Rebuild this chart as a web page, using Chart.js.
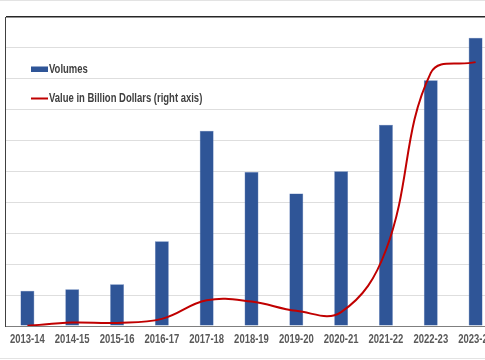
<!DOCTYPE html>
<html>
<head>
<meta charset="utf-8">
<script src="https://cdn.jsdelivr.net/npm/chart.js@4"></script>
<style>
  html, body { margin: 0; padding: 0; background: #fff; overflow: hidden; }
  body { width: 485px; height: 360px; position: relative; }
  #wrap { position: absolute; left: 0; top: 0; width: 500px; height: 360px; }
  #edgeTop, #edgeBottom { position: absolute; left: 0; width: 485px; height: 1px; background: #e3e3e3; }
  #edgeTop { top: 0; }
  #edgeBottom { top: 358px; }
</style>
</head>
<body>
<div id="wrap"><canvas id="chart" width="500" height="360"></canvas></div>
<div id="edgeTop"></div>
<div id="edgeBottom"></div>
<script>
// ---- data ----
const years = ['2013-14', '2014-15', '2015-16', '2016-17', '2017-18', '2018-19',
               '2019-20', '2020-21', '2021-22', '2022-23', '2023-24'];
const volumes = [114, 119, 135, 274, 632, 498, 429, 501, 651, 795, 933];      // left axis
const valueBn = [0.1, 1.1, 1.0, 2.3, 8.3, 7.9, 4.9, 4.5, 24.6, 81.9, 85.4];  // right axis
const leftMax = 1000, leftStep = 100;
const rightMax = 100;

const FONT = "'Liberation Sans', Arial, sans-serif";
const NARROW = 0.79;   // the original uses a narrow face, squeeze the text horizontally
const BLUE = '#2f5597';
const RED = '#c00000';

function narrowText(ctx, text, x, y, align) {
    const w = ctx.measureText(text).width * NARROW;
    let left = x;
    if (align === 'center') left = x - w / 2;
    ctx.save();
    ctx.translate(left, y);
    ctx.scale(NARROW, 1);
    ctx.textAlign = 'left';
    ctx.fillText(text, 0, 0);
    ctx.restore();
}

// x labels + legend drawn with narrow text
const narrowLabels = {
    id: 'narrowLabels',
    afterDraw(chart) {
        const ctx = chart.ctx;
        const xs = chart.scales.x;
        const axisY = chart.chartArea.bottom;
        ctx.save();
        ctx.font = 'bold 12px ' + FONT;
        ctx.textBaseline = 'middle';
        ctx.fillStyle = '#595959';
        years.forEach((lab, i) => {
            narrowText(ctx, lab, xs.getPixelForValue(i), axisY + 14, 'center');
        });

        // legend, inside the plot, top-left
        ctx.fillStyle = BLUE;
        ctx.fillRect(31, 66.5, 17, 5.5);
        ctx.fillStyle = '#404040';
        narrowText(ctx, 'Volumes', 49, 69.5, 'left');
        ctx.strokeStyle = RED;
        ctx.lineWidth = 2;
        ctx.beginPath();
        ctx.moveTo(31, 98.5);
        ctx.lineTo(48, 98.5);
        ctx.stroke();
        narrowText(ctx, 'Value in Billion Dollars (right axis)', 49, 98.5, 'left');
        ctx.restore();
    }
};

document.addEventListener('DOMContentLoaded', function () {
    new Chart(document.getElementById('chart'), {
        type: 'bar',
        data: {
            labels: years,
            datasets: [
                {
                    type: 'line', label: 'Value in Billion Dollars (right axis)', data: valueBn,
                    yAxisID: 'y1', borderColor: RED, borderWidth: 2, tension: 0.4,
                    pointRadius: 0, fill: false, order: 0
                },
                {
                    label: 'Volumes', data: volumes, yAxisID: 'y',
                    backgroundColor: BLUE, borderColor: '#5b7bb8', borderWidth: 0.5,
                    barPercentage: 0.31, categoryPercentage: 1, order: 1
                }
            ]
        },
        options: {
            responsive: false, animation: false,
            layout: { padding: { left: 5, right: 2, top: 17, bottom: 26 } },
            plugins: { legend: { display: false }, tooltip: { enabled: false } },
            scales: {
                x: {
                    grid: { display: false },
                    border: { color: '#7f7f7f', width: 1 },
                    ticks: { display: false }
                },
                y: {
                    min: 0, max: leftMax,
                    ticks: { display: false, stepSize: leftStep },
                    grid: {
                        drawTicks: false,
                        color: c => c.tick && c.tick.value === leftMax ? '#262626' : '#dedede',
                        lineWidth: c => c.tick && c.tick.value === leftMax ? 1.5 : 1
                    },
                    border: { color: '#404040', width: 1 }
                },
                y1: { display: false, position: 'right', min: 0, max: rightMax }
            }
        },
        plugins: [narrowLabels]
    });
});
</script>
</body>
</html>
